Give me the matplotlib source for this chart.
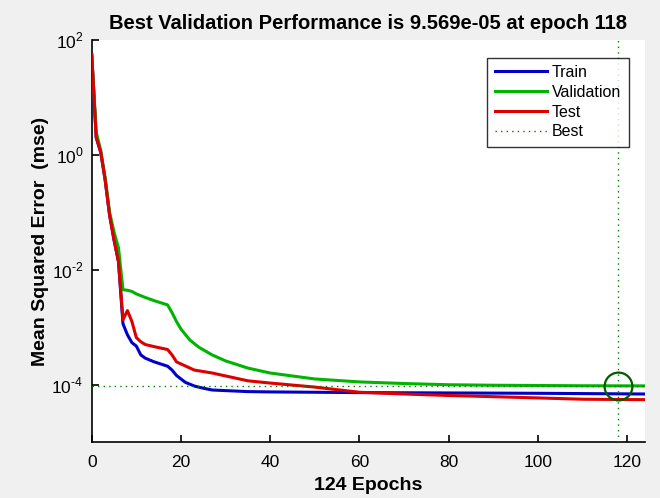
import matplotlib
matplotlib.use("Agg")
import matplotlib.pyplot as plt
from matplotlib.ticker import LogLocator, NullLocator, FuncFormatter
import math

plt.rcParams['font.family'] = ['Liberation Sans', 'DejaVu Sans']
plt.rcParams['mathtext.fontset'] = 'custom'
plt.rcParams['mathtext.rm'] = 'Liberation Sans'

train_ep = [0, 1, 2, 3, 4, 5, 6, 7, 8, 9, 10, 11, 12, 14, 17, 18, 19, 20, 21, 23, 25, 27, 30, 35, 40, 50, 60, 80, 100, 124]
train_mse = [55, 2.0, 1.1, 0.37, 0.089, 0.033, 0.0138, 1.15e-3, 7.4e-4, 5.4e-4, 4.7e-4, 3.3e-4, 2.9e-4, 2.5e-4,
             2.1e-4, 1.8e-4, 1.45e-4, 1.26e-4, 1.1e-4, 9.5e-5, 8.7e-5, 8.1e-5, 7.9e-5, 7.6e-5, 7.5e-5, 7.4e-5,
             7.3e-5, 7.2e-5, 7.1e-5, 6.9e-5]

val_ep = [0, 1, 2, 3, 4, 5, 6, 7, 8, 9, 10, 12, 14, 17, 18, 19, 20, 22, 24, 27, 30, 35, 40, 50, 60, 70, 80, 90, 100, 110, 118, 124]
val_mse = [55, 2.5, 1.2, 0.4, 0.1, 0.045, 0.024, 4.5e-3, 4.4e-3, 4.2e-3, 3.8e-3, 3.3e-3, 2.9e-3, 2.45e-3,
           1.8e-3, 1.26e-3, 9.3e-4, 6.0e-4, 4.5e-4, 3.3e-4, 2.6e-4, 1.95e-4, 1.6e-4, 1.26e-4, 1.12e-4, 1.05e-4,
           1.0e-4, 9.8e-5, 9.7e-5, 9.6e-5, 9.569e-5, 9.55e-5]

test_ep = [0, 1, 2, 3, 4, 5, 6, 7, 8, 9, 10, 11, 12, 14, 17, 18, 19, 20, 23, 27, 35, 40, 50, 60, 70, 80, 90, 100, 110, 124]
test_mse = [55, 2.0, 1.15, 0.37, 0.09, 0.033, 0.0138, 1.35e-3, 1.95e-3, 1.26e-3, 6.6e-4, 5.6e-4, 5.0e-4, 4.6e-4,
            4.1e-4, 3.3e-4, 2.5e-4, 2.3e-4, 1.8e-4, 1.6e-4, 1.17e-4, 1.07e-4, 9.1e-5, 7.4e-5, 6.9e-5, 6.5e-5,
            6.2e-5, 5.9e-5, 5.6e-5, 5.5e-5]

best_epoch = 118
best_perf = 9.569e-05
n_epochs = 124

fig = plt.figure(figsize=(6.6, 4.98), dpi=100, facecolor='#f0f0f0')
ax = fig.add_axes([0.139, 0.112, 0.838, 0.808])
ax.set_facecolor('white')

ax.plot(train_ep, train_mse, color='#0000c8', lw=2.2, label='Train', zorder=3)
ax.plot(val_ep, val_mse, color='#00b400', lw=2.2, label='Validation', zorder=3)
ax.plot(test_ep, test_mse, color='#dc0000', lw=2.2, label='Test', zorder=4)
ax.axvline(best_epoch, color='#008000', lw=1, ls=(0, (1, 3)), zorder=5)
ax.axhline(best_perf, color='#008000', lw=1, ls=(0, (1, 3)), label='Best', zorder=5)
ax.plot([best_epoch], [best_perf], marker='o', ms=20, mfc='none', mec='#005a00', mew=1.6, zorder=6)

ax.set_yscale('log')
ax.set_xlim(0, n_epochs)
ax.set_ylim(1e-5, 1e2)
ax.yaxis.set_major_locator(LogLocator(base=100.0))
ax.yaxis.set_minor_locator(NullLocator())


def fmt(v, pos):
    e = int(round(math.log10(v)))
    if e < 0:
        return r'$10^{\text{-}%d}$' % (-e)
    return r'$10^{%d}$' % e


ax.yaxis.set_major_formatter(FuncFormatter(fmt))
ax.set_xticks([0, 20, 40, 60, 80, 100, 120])
ax.xaxis.get_offset_text().set_visible(False)
ax.yaxis.get_offset_text().set_visible(False)

for s in ['top', 'right']:
    ax.spines[s].set_visible(False)
for s in ['left', 'bottom']:
    ax.spines[s].set_linewidth(1.2)
ax.tick_params(direction='in', length=5, width=1.2, labelsize=12.5)
ax.tick_params(axis='x', pad=9)
ax.tick_params(axis='y', pad=6)

ax.set_title(f'Best Validation Performance is {best_perf:.3e} at epoch {best_epoch}',
             fontsize=14.5, fontweight='bold', pad=8)
ax.set_xlabel(f'{n_epochs} Epochs', fontsize=14, fontweight='bold', labelpad=5)
ax.set_ylabel('Mean Squared Error  (mse)', fontsize=14, fontweight='bold', labelpad=2)

leg = ax.legend(loc='upper right', bbox_to_anchor=(0.985, 0.975), fontsize=11.5, frameon=True,
                fancybox=False, edgecolor='black', handlelength=3.3, borderpad=0.45,
                labelspacing=0.3, handletextpad=0.3)
leg.get_frame().set_linewidth(1.0)

fig.savefig('out.png', dpi=100, facecolor=fig.get_facecolor())
